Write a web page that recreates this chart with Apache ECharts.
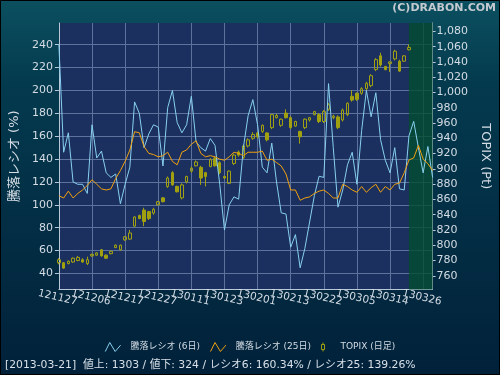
<!DOCTYPE html>
<html>
<head>
<meta charset="utf-8">
<script src="https://cdn.jsdelivr.net/npm/echarts@6/dist/echarts.min.js"></script>
<style>
html, body { margin: 0; padding: 0; background: #01223a; }
#main { width: 500px; height: 375px; }
</style>
</head>
<body>
<div id="main"></div>
<script>
// 営業日 (yymmdd)
var dates = [
  '121127', '121128', '121129', '121130',
  '121203', '121204', '121205', '121206', '121207',
  '121210', '121211', '121212', '121213', '121214',
  '121217', '121218', '121219', '121220', '121221',
  '121225', '121226', '121227', '121228',
  '130104', '130107', '130108', '130109', '130110', '130111',
  '130115', '130116', '130117', '130118',
  '130121', '130122', '130123', '130124', '130125',
  '130128', '130129', '130130', '130131', '130201',
  '130204', '130205', '130206', '130207', '130208',
  '130212', '130213', '130214', '130215',
  '130218', '130219', '130220', '130221', '130222',
  '130225', '130226', '130227', '130228', '130301',
  '130304', '130305', '130306', '130307', '130308',
  '130311', '130312', '130313', '130314', '130315',
  '130318', '130319', '130321', '130322', '130325', '130326', '130327', '130328'
];

// 騰落レシオ (6日)
var ratio6 = [
  240, 146, 163, 120, 118, 118, 110, 170, 141, 147,
  128, 124, 127, 101, 118, 133, 190, 180, 150, 162,
  170, 168, 134, 185, 200, 172, 163, 170, 195, 155,
  150, 147, 158, 152, 118, 78, 100, 107, 105, 150,
  178, 192, 170, 133, 128, 154, 120, 93, 92, 63,
  74, 45, 62, 85, 108, 125, 124, 206, 150, 98,
  113, 135, 146, 118, 165, 200, 177, 198, 157, 139,
  128, 150, 114, 113, 160.34, 173, 150, 128, 151, 124
];

// 騰落レシオ (25日)
var ratio25 = [
  108, 106, 112, 106, 110, 113, 117, 122, 118, 114,
  113, 114, 123, 130, 138, 148, 164, 163, 151, 145,
  144, 142, 143, 146, 138, 135, 146, 148, 153, 156,
  145, 142, 143, 142, 140, 139, 142, 146, 145, 143,
  146, 146, 146, 147, 139, 140, 137, 134, 127, 113,
  113, 104, 106, 107, 110, 112, 113, 110, 106, 106,
  118, 116, 113, 111, 116, 111, 115, 118, 111, 116,
  113, 118, 119, 128, 139.26, 141, 152, 140, 136, 130
];

// TOPIX 日足 [始値, 終値, 安値, 高値]
var topix = [
  [777, 781, 775, 783], [777, 770, 769, 778], [776, 779, 775, 780], [778, 783, 777, 784],
  [780, 784, 779, 786], [781, 778, 777, 783], [776, 781, 774, 785], [786, 788, 785, 789],
  [787, 790, 786, 791], [794, 786, 785, 795], [787, 783, 782, 788], [789, 792, 788, 793],
  [797, 800, 796, 801], [794, 800, 793, 801], [807, 811, 806, 812], [808, 816, 807, 820],
  [825, 837, 824, 838], [839, 835, 834, 840], [846, 831, 825, 849], [844, 835, 833, 845],
  [842, 847, 840, 849], [853, 857, 852, 858], [862, 857, 856, 863], [877, 888, 875, 890],
  [895, 879, 878, 897], [877, 870, 869, 878], [862, 879, 860, 881], [883, 890, 881, 891],
  [897, 901, 895, 903], [904, 909, 903, 911], [902, 888, 879, 904], [895, 890, 877, 896],
  [903, 912, 902, 914], [914, 904, 903, 916], [908, 895, 893, 910], [890, 888, 887, 891],
  [881, 897, 880, 898], [907, 918, 905, 920], [922, 918, 916, 924], [915, 930, 913, 932],
  [930, 938, 928, 940], [940, 945, 938, 948], [947, 942, 940, 948], [949, 957, 947, 958],
  [947, 938, 936, 948], [954, 971, 952, 972], [967, 970, 966, 972], [957, 965, 955, 966],
  [973, 967, 966, 978], [967, 954, 952, 969], [956, 962, 955, 963], [949, 942, 933, 950],
  [954, 965, 952, 966], [964, 967, 962, 968], [971, 975, 970, 976], [971, 962, 960, 973],
  [962, 975, 960, 977], [978, 984, 976, 986], [967, 969, 965, 971], [968, 954, 952, 970],
  [964, 977, 962, 979], [971, 986, 969, 987], [995, 990, 988, 1003], [999, 991, 989, 1000],
  [999, 1005, 997, 1007], [1005, 1012, 1003, 1014], [1009, 1022, 1007, 1024], [1030, 1043, 1028, 1045],
  [1048, 1036, 1034, 1052], [1034, 1030, 1029, 1035], [1038, 1040, 1027, 1041], [1044, 1054, 1042, 1056],
  [1041, 1028, 1027, 1043], [1041, 1048, 1040, 1049], [1056, 1059, 1055, 1063]
];

var statusDate = '2013-03-21';
var advances = 1303;
var declines = 324;

var chart = echarts.init(document.getElementById('main'));

var labelColor = '#d4dce4';
var axisColor = '#b8c8d8';
var gridColor = '#5d729c';
var olive = '#a0a010';
var fontFamily = 'DejaVu Sans, Noto Sans CJK JP';

function addCommas(v) {
  return String(v).replace(/\B(?=(\d{3})+(?!\d))/g, ',');
}

var option = {
  animation: false,
  backgroundColor: new echarts.graphic.LinearGradient(0, 0, 0, 1, [
    { offset: 0, color: '#0b5060' },
    { offset: 0.22, color: '#043a4e' },
    { offset: 1, color: '#01213a' }
  ]),
  textStyle: { fontFamily: fontFamily },
  grid: {
    left: 57,
    right: 62,
    top: 23,
    bottom: 85.5,
    show: true,
    backgroundColor: '#1b305e',
    borderWidth: 0
  },
  legend: {
    top: 337,
    left: 'center',
    itemWidth: 17,
    itemHeight: 9,
    itemGap: 10,
    textStyle: { color: labelColor, fontSize: 9, padding: [0, 0, 0, 4] },
    data: [
      {
        name: '騰落レシオ (6日)',
        icon: 'path://M0,10 L5,0 L11,10 L17,3',
        itemStyle: { color: 'rgba(0,0,0,0)', borderColor: '#88d0f0', borderWidth: 1 }
      },
      {
        name: '騰落レシオ (25日)',
        icon: 'path://M0,10 L5,0 L11,10 L17,3',
        itemStyle: { color: 'rgba(0,0,0,0)', borderColor: '#f0a010', borderWidth: 1 }
      },
      {
        name: 'TOPIX (日足)',
        icon: 'path://M4,0 L4,4 M1,4 L7,4 L7,14 L1,14 Z M4,14 L4,18',
        itemStyle: { color: 'rgba(0,0,0,0)', borderColor: olive, borderWidth: 1 }
      }
    ]
  },
  graphic: [
    {
      type: 'text',
      right: 4,
      top: 3,
      style: {
        text: '(C)DRABON.COM',
        fill: '#c4cad0',
        font: 'bold 11px DejaVu Sans'
      }
    },
    {
      type: 'text',
      left: 5,
      top: 360,
      style: {
        text: '[' + statusDate + ']  値上: ' + advances + ' / 値下: ' + declines +
          ' / レシオ6: ' + ratio6[74].toFixed(2) + '% / レシオ25: ' + ratio25[74].toFixed(2) + '%',
        fill: '#d8e0e8',
        font: '10.8px DejaVu Sans, Noto Sans CJK JP'
      }
    },
    {
      type: 'rect',
      shape: { x: 0.5, y: 0.5, width: 499, height: 374 },
      style: { fill: 'none', stroke: '#000', lineWidth: 1 },
      silent: true
    }
  ],
  xAxis: {
    type: 'category',
    data: dates,
    boundaryGap: false,
    axisLine: { lineStyle: { color: axisColor } },
    axisTick: { show: false },
    axisLabel: {
      // 7営業日ごとに表示
      interval: 0,
      formatter: function (v, i) {
        return i % 7 === 0 ? v : '';
      },
      rotate: -13,
      align: 'center',
      verticalAlign: 'top',
      margin: 3,
      color: labelColor,
      fontSize: 10.5
    },
    splitLine: { show: true, interval: 6, lineStyle: { color: gridColor } }
  },
  yAxis: [
    {
      type: 'value',
      position: 'left',
      min: 26,
      max: 259,
      minInterval: 20,
      maxInterval: 20,
      name: '騰落レシオ (%)',
      nameLocation: 'middle',
      nameRotate: 90,
      nameGap: 32,
      nameTextStyle: { color: labelColor, fontSize: 13 },
      axisLine: { show: true, lineStyle: { color: axisColor } },
      axisTick: { show: true, length: 4, lineStyle: { color: axisColor } },
      axisLabel: { color: labelColor, fontSize: 11, margin: 6, showMinLabel: false, showMaxLabel: false },
      splitLine: { show: true, showMinLine: false, showMaxLine: false, lineStyle: { color: gridColor } }
    },
    {
      type: 'value',
      position: 'right',
      min: 742,
      max: 1091,
      minInterval: 20,
      maxInterval: 20,
      name: 'TOPIX (Pt)',
      nameLocation: 'middle',
      nameRotate: -90,
      nameGap: 41,
      nameTextStyle: { color: labelColor, fontSize: 13 },
      axisLine: { show: true, lineStyle: { color: axisColor } },
      axisTick: { show: true, length: 3, lineStyle: { color: axisColor } },
      axisLabel: {
        color: labelColor,
        fontSize: 11,
        margin: 4,
        showMinLabel: false,
        showMaxLabel: false,
        formatter: addCommas
      },
      splitLine: { show: false }
    }
  ],
  series: [
    {
      name: 'TOPIX (日足)',
      type: 'candlestick',
      yAxisIndex: 1,
      data: topix,
      barWidth: 3,
      itemStyle: {
        color: 'rgba(0,0,0,0)',
        color0: olive,
        borderColor: olive,
        borderColor0: olive,
        borderWidth: 1
      },
      markArea: {
        silent: true,
        itemStyle: { color: 'rgba(2,77,49,0.8)' },
        data: [[{ xAxis: '130321' }, { xAxis: '130328' }]]
      }
    },
    {
      name: '騰落レシオ (6日)',
      type: 'line',
      yAxisIndex: 0,
      data: ratio6,
      showSymbol: false,
      color: '#88d0f0',
      lineStyle: { width: 1, color: '#88d0f0' }
    },
    {
      name: '騰落レシオ (25日)',
      type: 'line',
      yAxisIndex: 0,
      data: ratio25,
      showSymbol: false,
      color: '#f0a010',
      lineStyle: { width: 1, color: '#f0a010' }
    }
  ]
};

chart.setOption(option);
</script>
</body>
</html>
